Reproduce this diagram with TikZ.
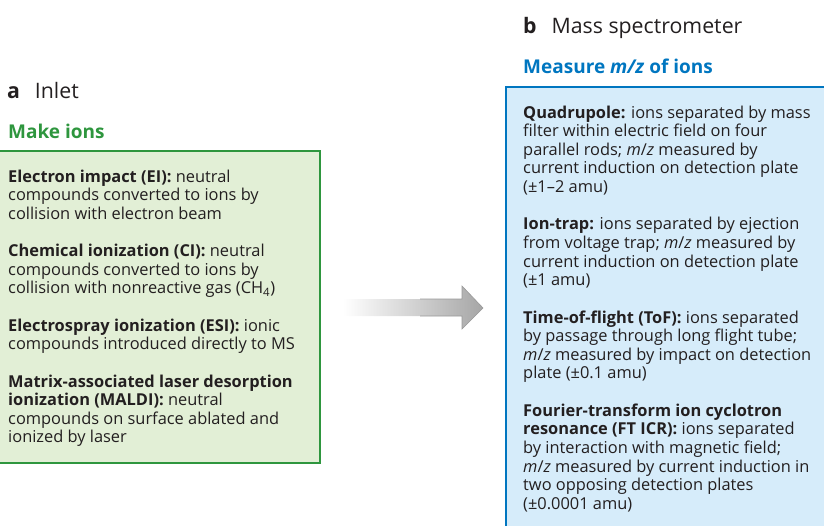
\documentclass[tikz,border=0pt]{standalone}
\usepackage{fontspec}
\setmainfont{Open Sans}
\usepackage{tikz}
\usetikzlibrary{backgrounds}
\definecolor{ink}{RGB}{35, 31, 32}
\definecolor{inletgreen}{RGB}{46, 150, 62}
\definecolor{inletfill}{RGB}{226, 239, 214}
\definecolor{msblue}{RGB}{0, 118, 192}
\definecolor{msfill}{RGB}{214, 236, 250}

\tikzset{
  para/.style={anchor=base west, inner sep=0, align=left, text=ink,
    font=\fontsize{16.4}{18.64}\selectfont},
  panel/.style={anchor=base west, inner sep=0, text=ink,
    font=\fontsize{21.3}{24}\selectfont},
  heading/.style={anchor=base west, inner sep=0,
    font=\fontsize{19}{20}\selectfont\bfseries}
}

\begin{document}
\begin{tikzpicture}[x=1pt, y=-1pt]

\pgfmathsetmacro{\lead}{18.64}

\useasboundingbox (0, 0) rectangle (824, 525);

% boxes
\draw[inletgreen, fill=inletfill, line width=2.2] (-10, 151) rectangle (320, 463);
\draw[msblue, fill=msfill, line width=2.2] (506, 87) rectangle (840, 540);

% arrow
\shade[left color=white, right color=black!35]
  (343, 299) -- (462, 299) -- (462, 286) -- (483, 308) -- (462, 329) -- (462, 316) -- (343, 316) -- cycle;
\draw[black!40, line width=0.6]
  (420, 299) -- (462, 299) -- (462, 286) -- (483, 308) -- (462, 329) -- (462, 316) -- (420, 316);

% a  Inlet  (node base = last line)
\node[panel] (inlet) at (7, 98) {\textbf{a}\hspace{0.7em}Inlet};
\node[heading, text=inletgreen] (makeions) at (8, 138) {Make ions};

\node[para] (ei) at (8, 182 + 2*\lead)
  {\textbf{Electron impact (EI):} neutral\\compounds converted to ions by\\collision with electron beam};
\node[para] (ci) at (8, 182 + 6*\lead)
  {\textbf{Chemical ionization (CI):} neutral\\compounds converted to ions by\\collision with nonreactive gas (CH\textsubscript{4})};
\node[para] (esi) at (8, 182 + 9*\lead)
  {\textbf{Electrospray ionization (ESI):} ionic\\compounds introduced directly to MS};
\node[para] (maldi) at (8, 182 + 14*\lead)
  {\textbf{Matrix-associated laser desorption}\\\textbf{ionization (MALDI):} neutral\\compounds on surface ablated and\\ionized by laser};

% b  Mass spectrometer
\node[panel] (ms) at (523, 33) {\textbf{b}\hspace{0.7em}Mass spectrometer};
\node[heading, text=msblue] (measure) at (523, 73) {Measure \textit{m/z} of ions};

\node[para] (quad) at (523, 118 + 4*\lead)
  {\textbf{Quadrupole:} ions separated by mass\\filter within electric field on four\\parallel rods; \textit{m}/\textit{z} measured by\\current induction on detection plate\\(±1--2 amu)};
\node[para] (trap) at (523, 118 + 9*\lead)
  {\textbf{Ion-trap:} ions separated by ejection\\from voltage trap; \textit{m}/\textit{z} measured by\\current induction on detection plate\\(±1 amu)};
\node[para] (tof) at (523, 118 + 14*\lead)
  {\textbf{Time-of-flight (ToF):} ions separated\\by passage through long flight tube;\\\textit{m}/\textit{z} measured by impact on detection\\plate (±0.1 amu)};
\node[para] (fticr) at (523, 118 + 21*\lead)
  {\textbf{Fourier-transform ion cyclotron}\\\textbf{resonance (FT ICR):} ions separated\\by interaction with magnetic field;\\\textit{m}/\textit{z} measured by current induction in\\two opposing detection plates\\(±0.0001 amu)};

\end{tikzpicture}
\end{document}
